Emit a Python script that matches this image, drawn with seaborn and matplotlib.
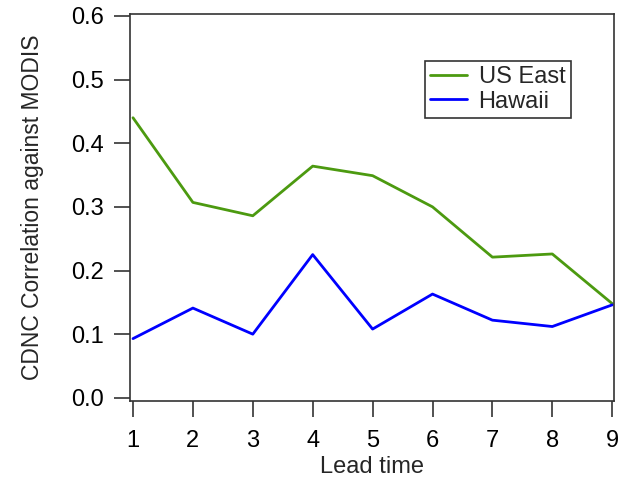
import matplotlib
matplotlib.use("Agg")
import matplotlib.pyplot as plt
import seaborn as sns
import pandas as pd

lead_time = [1, 2, 3, 4, 5, 6, 7, 8, 9]
us_east = [0.440, 0.307, 0.286, 0.364, 0.349, 0.300, 0.221, 0.226, 0.148]
hawaii = [0.093, 0.141, 0.100, 0.225, 0.108, 0.163, 0.122, 0.112, 0.146]
series_names = ["US East", "Hawaii"]
colors = ["#4c9a10", "#0000ff"]
y_ticks = [0.0, 0.1, 0.2, 0.3, 0.4, 0.5, 0.6]

df = pd.DataFrame({
    "Lead time": lead_time * 2,
    "value": us_east + hawaii,
    "series": [series_names[0]] * len(lead_time) + [series_names[1]] * len(lead_time),
})

sns.set_style("ticks")
plt.rcParams["font.family"] = ["Liberation Sans", "DejaVu Sans"]

fig = plt.figure(figsize=(6.21, 4.79), dpi=100)
ax = fig.add_axes([130 / 621, 1 - 401 / 479, (614 - 130) / 621, (401 - 14) / 479])
sns.lineplot(data=df, x="Lead time", y="value", hue="series",
             palette=dict(zip(series_names, colors)), linewidth=2, ax=ax)

ax.set_xlim(0.95, 9.03)
ax.set_ylim(-0.005, 0.603)
ax.set_xticks(lead_time)
ax.set_yticks(y_ticks)
ax.set_yticklabels([f"{v:.1f}" for v in y_ticks])
ax.tick_params(direction="out", length=11.5, width=1.2, labelsize=17, colors="#333333", labelcolor="black", pad=7)
ax.tick_params(axis="x", pad=9.5)
for s in ax.spines.values():
    s.set_visible(True)
    s.set_linewidth(1.2)
    s.set_color("#333333")
ax.set_xlabel("Lead time", fontsize=17, labelpad=3)
ax.set_ylabel("CDNC Correlation against MODIS", fontsize=16.5, labelpad=20)

leg = ax.legend(loc="upper left", bbox_to_anchor=((425 - 130) / 484, (401 - 61) / 387),
                frameon=True, fancybox=False, fontsize=17, handlelength=1.55,
                borderpad=0.22, labelspacing=0.1, handletextpad=0.5, borderaxespad=0)
leg.get_frame().set_edgecolor("black")
leg.get_frame().set_linewidth(1.2)

fig.savefig("out.png", dpi=100)
